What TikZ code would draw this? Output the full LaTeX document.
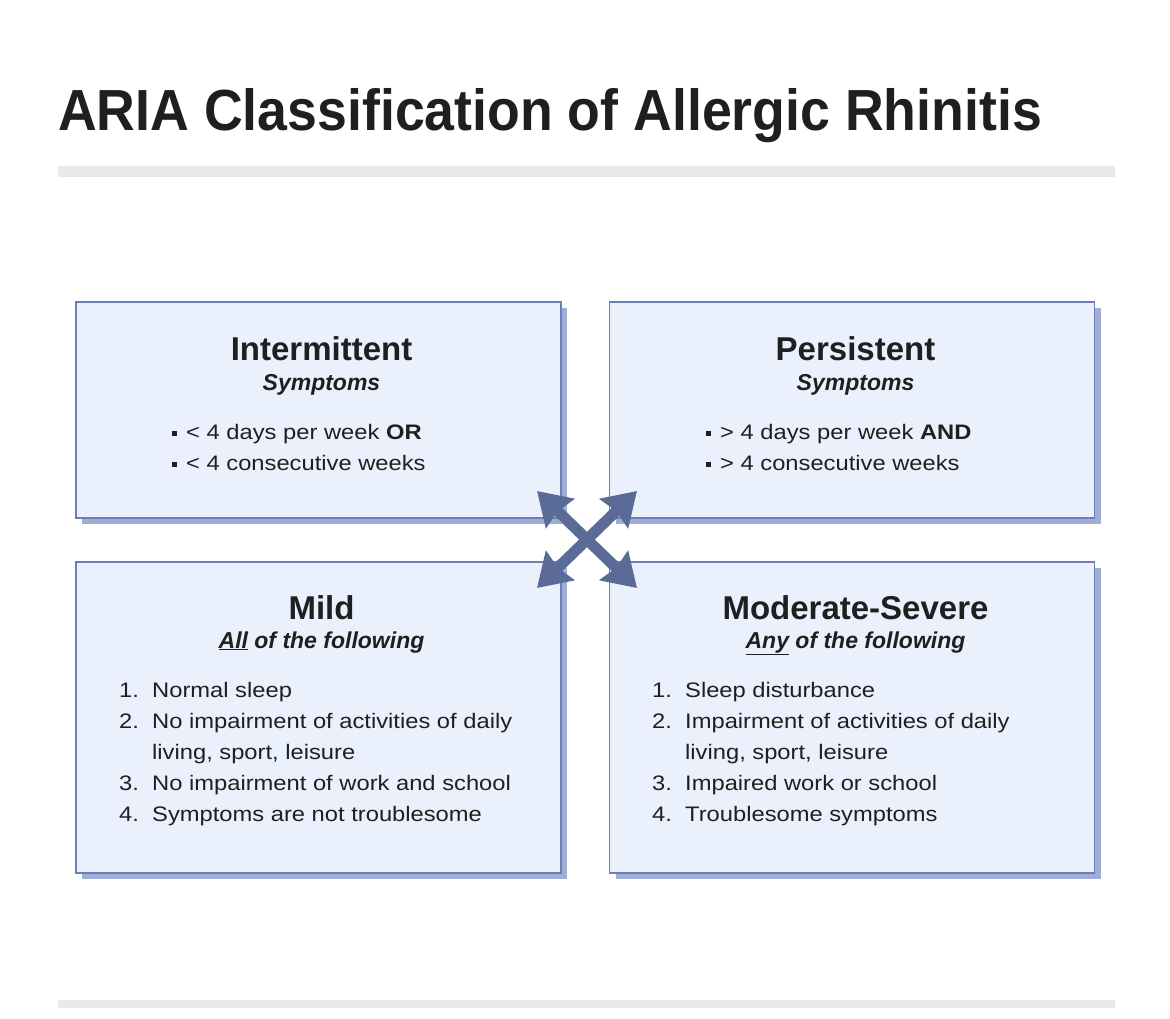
\documentclass[tikz,border=0pt]{standalone}
\usepackage{fontspec}
\setmainfont{Liberation Sans}
\newfontfamily\corps[FakeStretch=1.13]{Liberation Sans}
\newfontfamily\grostitre[FakeStretch=0.925]{Liberation Sans}
\usetikzlibrary{arrows.meta,shadows,positioning}

\definecolor{fondboite}{HTML}{EAF1FD}
\definecolor{bordboite}{HTML}{6B7EB8}
\definecolor{ombreboite}{HTML}{A0AED6}
\definecolor{flechecol}{HTML}{5B6B97}
\definecolor{regle}{HTML}{E8E9EB}
\definecolor{encre}{HTML}{1F1F1F}

\newcommand\puce{\raisebox{3.5pt}{\rule{5pt}{5pt}}\hspace{9pt}}

\begin{document}
\begin{tikzpicture}[x=1pt, y=1pt,
    titre/.style={anchor=base west, inner sep=0pt, text=encre,
                  font=\grostitre\bfseries\fontsize{58}{64}\selectfont},
    boite/.style={draw=bordboite, line width=1.6pt, fill=fondboite, inner sep=0pt,
                  minimum width=485pt, minimum height=#1,
                  drop shadow={shadow xshift=6pt, shadow yshift=-6pt, fill=ombreboite, opacity=1}},
    entete/.style={anchor=base, inner sep=0pt, text=encre,
                   font=\bfseries\fontsize{33}{38}\selectfont},
    soustitre/.style={anchor=base, inner sep=0pt, text=encre,
                      font=\bfseries\itshape\fontsize{23}{26}\selectfont},
    liste/.style={anchor=base west, inner sep=0pt, text=encre,
                  font=\corps\fontsize{21}{31}\selectfont},
    fleche/.style={{Stealth[length=32pt,width=40pt,inset=3pt]}-{Stealth[length=32pt,width=40pt,inset=3pt]},
                   line width=11pt, draw=flechecol}
]
    \useasboundingbox (0,0) rectangle (1170,-1018);
    \fill[white] (0,0) rectangle (1170,-1018);

    % title and rules
    \node[titre] (titre) at (58,-130) {ARIA Classification of Allergic Rhinitis};
    \fill[regle] (58,-166) rectangle (1115,-177);
    \fill[regle] (58,-1000) rectangle (1115,-1008);

    % the four boxes
    \node[boite=216pt] (inter) at (318.5,-410) {};
    \node[boite=216pt] (persist) at (852,-410) {};
    \node[boite=311pt] (leger) at (318.5,-717.5) {};
    \node[boite=311pt] (modere) at (852,-717.5) {};

    \node[entete] (interTitre) at (321.5,-360) {Intermittent};
    \node[soustitre] (interSous) at (321.5,-390) {Symptoms};
    \node[liste] (interListe) at (172,-439) {\begin{tabular}[t]{@{}l@{}}
        \puce< 4 days per week \textbf{OR}\\
        \puce< 4 consecutive weeks
    \end{tabular}};

    \node[entete] (persistTitre) at (855.5,-360) {Persistent};
    \node[soustitre] (persistSous) at (855.5,-390) {Symptoms};
    \node[liste] (persistListe) at (706,-439) {\begin{tabular}[t]{@{}l@{}}
        \puce> 4 days per week \textbf{AND}\\
        \puce> 4 consecutive weeks
    \end{tabular}};

    \node[entete] (legerTitre) at (321.5,-619) {Mild};
    \node[soustitre] (legerSous) at (321.5,-648) {\underline{All} of the following};
    \node[liste] (legerListe) at (119,-697) {\begin{tabular}[t]{@{}p{33pt}@{}l@{}}
        1. & Normal sleep\\
        2. & No impairment of activities of daily\\
           & living, sport, leisure\\
        3. & No impairment of work and school\\
        4. & Symptoms are not troublesome
    \end{tabular}};

    \node[entete] (modereTitre) at (855.5,-619) {Moderate-Severe};
    \node[soustitre] (modereSous) at (855.5,-648) {\underline{Any} of the following};
    \node[liste] (modereListe) at (652,-697) {\begin{tabular}[t]{@{}p{33pt}@{}l@{}}
        1. & Sleep disturbance\\
        2. & Impairment of activities of daily\\
           & living, sport, leisure\\
        3. & Impaired work or school\\
        4. & Troublesome symptoms
    \end{tabular}};

    % crossed arrows in the middle
    \coordinate (pointeNO) at (537,-491);
    \coordinate (pointeNE) at (637,-491);
    \coordinate (pointeSO) at (537,-588);
    \coordinate (pointeSE) at (637,-588);
    \draw[fleche] (pointeNO) -- (pointeSE);
    \draw[fleche] (pointeNE) -- (pointeSO);
\end{tikzpicture}
\end{document}
